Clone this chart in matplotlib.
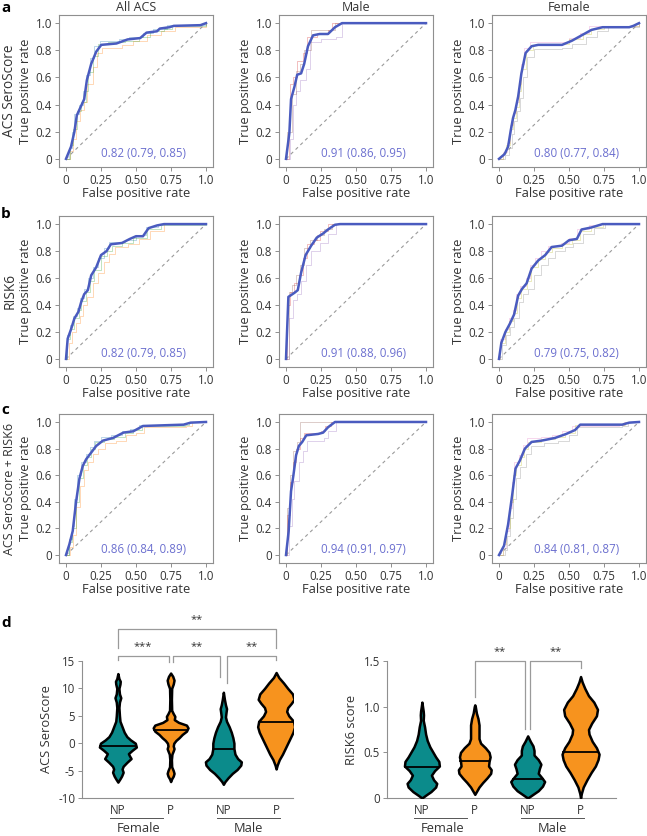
import numpy as np
import matplotlib
matplotlib.use('Agg')
import matplotlib.pyplot as plt
from matplotlib.transforms import blended_transform_factory

plt.rcParams['font.family'] = ['Open Sans', 'DejaVu Sans']

# ---------------- ROC data (panels a-c) ----------------
col_titles = ['All ACS', 'Male', 'Female']
row_labels = ['ACS SeroScore', 'RISK6', 'ACS SeroScore + RISK6']
row_label_sizes = [9.8, 9.8, 9.0]
panel_letters = ['a', 'b', 'c']
auc_labels = [
    ['0.82 (0.79, 0.85)', '0.91 (0.86, 0.95)', '0.80 (0.77, 0.84)'],
    ['0.82 (0.79, 0.85)', '0.91 (0.88, 0.96)', '0.79 (0.75, 0.82)'],
    ['0.86 (0.84, 0.89)', '0.94 (0.91, 0.97)', '0.84 (0.81, 0.87)'],
]
fpr_ticks = [0, 0.25, 0.5, 0.75, 1.0]
fpr_ticklabels = ['0', '0.25', '0.50', '0.75', '1.0']
tpr_ticks = [0, 0.2, 0.4, 0.6, 0.8, 1.0]
tpr_ticklabels = ['0', '0.2', '0.4', '0.6', '0.8', '1.0']

# mean ROC curves (fpr, tpr)
sero_all = [(0, 0), (0.036, 0.09), (0.06, 0.2), (0.077, 0.32), (0.108, 0.39), (0.13, 0.44),
            (0.149, 0.58), (0.18, 0.70), (0.216, 0.79), (0.252, 0.84), (0.36, 0.85), (0.44, 0.88),
            (0.53, 0.89), (0.575, 0.93), (0.65, 0.94), (0.67, 0.96), (0.74, 0.97), (0.77, 0.98),
            (0.96, 0.985), (1, 1)]
sero_male = [(0, 0), (0.024, 0.19), (0.036, 0.44), (0.06, 0.53), (0.08, 0.62), (0.108, 0.63),
             (0.13, 0.70), (0.157, 0.83), (0.193, 0.91), (0.24, 0.92), (0.30, 0.92), (0.35, 0.97),
             (0.40, 1.0), (1, 1)]
sero_female = [(0, 0), (0.04, 0.035), (0.065, 0.09), (0.084, 0.21), (0.10, 0.30), (0.117, 0.36),
               (0.137, 0.46), (0.16, 0.63), (0.19, 0.78), (0.233, 0.83), (0.28, 0.84), (0.45, 0.84),
               (0.52, 0.87), (0.59, 0.91), (0.66, 0.95), (0.74, 0.97), (0.93, 0.97), (0.96, 0.98),
               (1, 1)]
risk_all = [(0, 0), (0.012, 0.15), (0.036, 0.22), (0.06, 0.30), (0.089, 0.35), (0.108, 0.42),
            (0.13, 0.48), (0.156, 0.51), (0.18, 0.62), (0.216, 0.68), (0.25, 0.77), (0.29, 0.80),
            (0.32, 0.85), (0.40, 0.86), (0.456, 0.89), (0.50, 0.91), (0.55, 0.91), (0.59, 0.97),
            (0.65, 0.99), (0.70, 1.0), (1, 1)]
risk_male = [(0, 0), (0.017, 0.46), (0.06, 0.49), (0.084, 0.51), (0.108, 0.64), (0.14, 0.77),
             (0.18, 0.84), (0.22, 0.90), (0.265, 0.93), (0.30, 0.96), (0.35, 0.995), (0.386, 1),
             (1, 1)]
risk_female = [(0, 0), (0.017, 0.12), (0.046, 0.20), (0.077, 0.26), (0.108, 0.33), (0.137, 0.47),
               (0.165, 0.52), (0.197, 0.56), (0.233, 0.67), (0.28, 0.73), (0.33, 0.77), (0.376, 0.83),
               (0.45, 0.84), (0.50, 0.88), (0.556, 0.89), (0.59, 0.96), (0.66, 0.975), (0.74, 1),
               (1, 1)]
comb_all = [(0, 0), (0.024, 0.08), (0.048, 0.18), (0.072, 0.40), (0.096, 0.575), (0.12, 0.67),
            (0.144, 0.72), (0.18, 0.77), (0.216, 0.82), (0.264, 0.86), (0.336, 0.88), (0.41, 0.92),
            (0.48, 0.93), (0.55, 0.97), (0.84, 0.98), (0.89, 0.995), (1, 1)]
comb_male = [(0, 0), (0.019, 0.18), (0.036, 0.48), (0.053, 0.60), (0.072, 0.75), (0.092, 0.82),
             (0.116, 0.85), (0.145, 0.90), (0.23, 0.91), (0.265, 0.92), (0.30, 0.96), (0.35, 1),
             (1, 1)]
comb_female = [(0, 0), (0.036, 0.07), (0.065, 0.23), (0.094, 0.45), (0.118, 0.65), (0.149, 0.71),
               (0.185, 0.80), (0.233, 0.85), (0.305, 0.86), (0.40, 0.88), (0.48, 0.91), (0.544, 0.94),
               (0.58, 0.98), (0.88, 0.98), (0.93, 0.995), (1, 1)]

# a few cross-validation replicate curves (step curves)
sero_all_boot = [
    [(0, 0), (0.02, 0.08), (0.04, 0.2), (0.06, 0.33), (0.09, 0.4), (0.12, 0.5), (0.14, 0.62), (0.17, 0.74),
     (0.2, 0.83), (0.24, 0.87), (0.38, 0.88), (0.45, 0.9), (0.55, 0.93), (0.62, 0.96), (0.72, 0.99), (1, 1)],
    [(0, 0), (0.03, 0.06), (0.05, 0.15), (0.07, 0.28), (0.1, 0.36), (0.13, 0.42), (0.15, 0.55), (0.19, 0.68),
     (0.22, 0.78), (0.26, 0.82), (0.4, 0.84), (0.48, 0.87), (0.58, 0.91), (0.68, 0.94), (0.78, 0.97), (1, 1)],
    [(0, 0), (0.03, 0.1), (0.05, 0.22), (0.08, 0.35), (0.11, 0.42), (0.14, 0.5), (0.16, 0.64), (0.19, 0.76),
     (0.23, 0.85), (0.3, 0.86), (0.42, 0.87), (0.52, 0.9), (0.6, 0.94), (0.7, 0.96), (0.76, 0.98), (1, 1)],
]
sero_male_boot = [
    [(0, 0), (0.02, 0.28), (0.03, 0.55), (0.05, 0.6), (0.08, 0.72), (0.12, 0.78), (0.15, 0.9), (0.22, 0.93),
     (0.3, 0.95), (0.33, 1.0), (1, 1)],
    [(0, 0), (0.03, 0.15), (0.05, 0.4), (0.07, 0.5), (0.1, 0.58), (0.14, 0.66), (0.17, 0.86), (0.25, 0.88),
     (0.36, 0.9), (0.4, 1.0), (1, 1)],
    [(0, 0), (0.01, 0.2), (0.04, 0.48), (0.07, 0.65), (0.1, 0.7), (0.13, 0.8), (0.18, 0.95), (0.28, 0.95),
     (0.35, 1.0), (1, 1)],
]
sero_female_boot = [
    [(0, 0), (0.03, 0.05), (0.06, 0.12), (0.08, 0.25), (0.1, 0.34), (0.12, 0.42), (0.14, 0.55), (0.16, 0.7),
     (0.18, 0.82), (0.22, 0.86), (0.42, 0.86), (0.5, 0.89), (0.58, 0.93), (0.64, 0.98), (1, 1)],
    [(0, 0), (0.04, 0.03), (0.07, 0.08), (0.09, 0.18), (0.11, 0.28), (0.13, 0.35), (0.15, 0.45), (0.17, 0.6),
     (0.2, 0.75), (0.25, 0.81), (0.45, 0.82), (0.52, 0.85), (0.62, 0.9), (0.7, 0.94), (0.78, 0.97), (1, 1)],
    [(0, 0), (0.03, 0.04), (0.05, 0.1), (0.08, 0.22), (0.1, 0.3), (0.12, 0.38), (0.14, 0.5), (0.16, 0.66),
     (0.19, 0.8), (0.24, 0.84), (0.4, 0.85), (0.5, 0.88), (0.6, 0.92), (0.66, 0.96), (0.75, 0.98), (1, 1)],
]
risk_all_boot = [
    [(0, 0), (0.01, 0.18), (0.03, 0.25), (0.05, 0.32), (0.08, 0.38), (0.1, 0.45), (0.13, 0.52), (0.16, 0.6),
     (0.19, 0.68), (0.23, 0.75), (0.27, 0.82), (0.31, 0.87), (0.42, 0.88), (0.5, 0.92), (0.57, 0.98),
     (0.66, 1), (1, 1)],
    [(0, 0), (0.02, 0.12), (0.04, 0.2), (0.07, 0.27), (0.1, 0.32), (0.12, 0.4), (0.15, 0.46), (0.19, 0.56),
     (0.23, 0.64), (0.27, 0.72), (0.31, 0.78), (0.35, 0.83), (0.44, 0.85), (0.52, 0.89), (0.6, 0.95),
     (0.7, 1), (1, 1)],
    [(0, 0), (0.01, 0.15), (0.03, 0.22), (0.06, 0.3), (0.09, 0.36), (0.11, 0.43), (0.14, 0.5), (0.17, 0.58),
     (0.2, 0.66), (0.25, 0.76), (0.29, 0.8), (0.33, 0.84), (0.4, 0.86), (0.48, 0.9), (0.58, 0.96),
     (0.68, 0.99), (1, 1)],
]
risk_male_boot = [
    [(0, 0), (0.01, 0.4), (0.03, 0.5), (0.06, 0.56), (0.09, 0.62), (0.12, 0.75), (0.15, 0.85), (0.2, 0.88),
     (0.24, 0.95), (0.3, 1), (1, 1)],
    [(0, 0), (0.02, 0.3), (0.05, 0.44), (0.08, 0.48), (0.11, 0.58), (0.14, 0.7), (0.18, 0.8), (0.24, 0.86),
     (0.3, 0.93), (0.36, 1), (1, 1)],
    [(0, 0), (0.02, 0.5), (0.04, 0.55), (0.07, 0.62), (0.1, 0.7), (0.13, 0.82), (0.17, 0.88), (0.22, 0.92),
     (0.27, 0.96), (0.33, 1), (1, 1)],
]
risk_female_boot = [
    [(0, 0), (0.01, 0.15), (0.04, 0.22), (0.07, 0.3), (0.1, 0.36), (0.12, 0.48), (0.15, 0.54), (0.19, 0.6),
     (0.22, 0.7), (0.26, 0.75), (0.3, 0.8), (0.35, 0.84), (0.44, 0.86), (0.5, 0.9), (0.56, 0.96),
     (0.64, 0.99), (0.72, 1), (1, 1)],
    [(0, 0), (0.02, 0.1), (0.05, 0.18), (0.08, 0.24), (0.11, 0.3), (0.14, 0.42), (0.17, 0.48), (0.21, 0.52),
     (0.25, 0.62), (0.3, 0.7), (0.35, 0.75), (0.4, 0.8), (0.47, 0.83), (0.53, 0.86), (0.6, 0.93),
     (0.68, 0.97), (0.76, 1), (1, 1)],
    [(0, 0), (0.01, 0.12), (0.04, 0.2), (0.07, 0.28), (0.1, 0.34), (0.13, 0.45), (0.16, 0.52), (0.2, 0.58),
     (0.23, 0.68), (0.28, 0.74), (0.33, 0.79), (0.38, 0.82), (0.45, 0.85), (0.52, 0.88), (0.58, 0.95),
     (0.66, 0.98), (0.74, 1), (1, 1)],
]
comb_all_boot = [
    [(0, 0), (0.02, 0.12), (0.04, 0.22), (0.06, 0.42), (0.08, 0.6), (0.11, 0.7), (0.14, 0.76), (0.17, 0.81),
     (0.2, 0.86), (0.25, 0.89), (0.32, 0.9), (0.4, 0.93), (0.46, 0.95), (0.52, 0.98), (0.84, 0.99),
     (0.87, 1), (1, 1)],
    [(0, 0), (0.03, 0.06), (0.05, 0.15), (0.07, 0.36), (0.1, 0.52), (0.13, 0.64), (0.16, 0.7), (0.19, 0.76),
     (0.23, 0.8), (0.28, 0.84), (0.36, 0.86), (0.43, 0.9), (0.5, 0.92), (0.56, 0.96), (0.86, 0.97),
     (0.9, 1), (1, 1)],
    [(0, 0), (0.02, 0.1), (0.04, 0.2), (0.07, 0.4), (0.09, 0.58), (0.12, 0.68), (0.15, 0.74), (0.18, 0.8),
     (0.21, 0.85), (0.27, 0.87), (0.34, 0.89), (0.42, 0.92), (0.48, 0.94), (0.54, 0.97), (0.85, 0.98),
     (0.88, 1), (1, 1)],
]
comb_male_boot = [
    [(0, 0), (0.01, 0.3), (0.03, 0.55), (0.05, 0.7), (0.07, 0.8), (0.1, 0.88), (0.13, 0.92), (0.25, 0.93),
     (0.28, 0.97), (0.32, 1), (1, 1)],
    [(0, 0), (0.02, 0.22), (0.04, 0.42), (0.06, 0.56), (0.09, 0.7), (0.12, 0.78), (0.15, 0.86), (0.27, 0.88),
     (0.3, 0.93), (0.36, 1), (1, 1)],
    [(0, 0), (0.01, 0.35), (0.03, 0.6), (0.05, 0.78), (0.08, 0.85), (0.1, 1.0), (1, 1)],
]
comb_female_boot = [
    [(0, 0), (0.03, 0.05), (0.05, 0.18), (0.07, 0.35), (0.09, 0.55), (0.11, 0.7), (0.14, 0.75), (0.17, 0.83),
     (0.2, 0.88), (0.3, 0.89), (0.38, 0.9), (0.45, 0.93), (0.52, 0.97), (0.86, 0.98), (0.89, 1), (1, 1)],
    [(0, 0), (0.04, 0.04), (0.06, 0.14), (0.08, 0.28), (0.1, 0.42), (0.12, 0.58), (0.15, 0.66), (0.19, 0.76),
     (0.23, 0.82), (0.32, 0.84), (0.42, 0.86), (0.5, 0.9), (0.56, 0.96), (0.88, 0.97), (0.92, 1), (1, 1)],
    [(0, 0), (0.03, 0.08), (0.05, 0.2), (0.08, 0.4), (0.1, 0.6), (0.12, 0.68), (0.16, 0.74), (0.18, 0.8),
     (0.21, 0.85), (0.3, 0.87), (0.4, 0.89), (0.47, 0.92), (0.54, 0.98), (0.87, 0.98), (0.9, 1), (1, 1)],
]

mean_curves = [[sero_all, sero_male, sero_female],
               [risk_all, risk_male, risk_female],
               [comb_all, comb_male, comb_female]]
boot_curves = [[sero_all_boot, sero_male_boot, sero_female_boot],
               [risk_all_boot, risk_male_boot, risk_female_boot],
               [comb_all_boot, comb_male_boot, comb_female_boot]]

# ---------------- violin data (panel d) ----------------
violin_classes = ['NP', 'P', 'NP', 'P']
violin_groups = ['Female', 'Male']
violin_colors = ['#0b8b8b', '#f7931e', '#0b8b8b', '#f7931e']
sero_medians = [-0.6, 2.4, -1.0, 3.8]
risk_medians = [0.34, 0.41, 0.21, 0.50]

# density outlines: (score, half width)
sero_f_np = [(-7.1, 0), (-6.5, 0.04), (-6, 0.07), (-5.3, 0.1), (-4.7, 0.08), (-4.2, 0.1), (-3.5, 0.17),
             (-2.8, 0.25), (-2.3, 0.22), (-1.9, 0.2), (-1.3, 0.27), (-0.7, 0.35), (0, 0.33), (0.6, 0.24),
             (1.2, 0.17), (2, 0.12), (3, 0.08), (4, 0.04), (5, 0.03), (6.5, 0.02), (7.5, 0.03), (8.3, 0.055),
             (9, 0.03), (10, 0.02), (10.8, 0.04), (11.3, 0.045), (11.8, 0.02), (12.7, 0)]
sero_f_p = [(-7, 0), (-6.5, 0.02), (-6, 0.05), (-5.5, 0.065), (-5, 0.05), (-4.3, 0.02), (-3, 0.015),
            (-2, 0.025), (-1.4, 0.05), (-1, 0.065), (-0.5, 0.05), (0, 0.06), (0.5, 0.1), (1, 0.16),
            (1.6, 0.22), (2.2, 0.3), (2.8, 0.33), (3.3, 0.3), (3.8, 0.15), (4.3, 0.07), (4.9, 0.08),
            (5.4, 0.05), (6, 0.02), (8, 0.015), (10, 0.02), (10.8, 0.05), (11.5, 0.065), (12.2, 0.04),
            (12.8, 0)]
sero_m_np = [(-7.5, 0), (-7, 0.03), (-6.3, 0.09), (-5.5, 0.17), (-4.8, 0.26), (-4, 0.33), (-3.4, 0.34),
             (-2.8, 0.27), (-2, 0.22), (-1, 0.2), (0, 0.2), (1, 0.18), (2, 0.15), (3, 0.11), (4, 0.06),
             (4.8, 0.04), (5.6, 0.05), (6.3, 0.06), (7, 0.04), (8, 0.02), (9.3, 0)]
sero_m_p = [(-4.7, 0), (-4, 0.02), (-3, 0.06), (-2, 0.12), (-1, 0.17), (0, 0.22), (1, 0.27), (2, 0.32),
            (3, 0.35), (4, 0.33), (5, 0.24), (5.8, 0.2), (6.5, 0.22), (7.3, 0.29), (8, 0.34), (9, 0.31),
            (10, 0.22), (11, 0.14), (12, 0.05), (12.9, 0)]
risk_f_np = [(0, 0), (0.03, 0.07), (0.07, 0.17), (0.12, 0.26), (0.16, 0.28), (0.2, 0.22), (0.25, 0.18),
             (0.3, 0.24), (0.35, 0.33), (0.4, 0.32), (0.45, 0.26), (0.5, 0.21), (0.56, 0.15), (0.63, 0.1),
             (0.7, 0.07), (0.78, 0.05), (0.85, 0.025), (0.91, 0.03), (0.95, 0.025), (1.0, 0.012), (1.05, 0)]
risk_f_p = [(0.04, 0), (0.08, 0.04), (0.12, 0.08), (0.17, 0.15), (0.22, 0.23), (0.27, 0.3), (0.31, 0.31),
            (0.35, 0.26), (0.4, 0.27), (0.45, 0.29), (0.5, 0.27), (0.55, 0.2), (0.6, 0.11), (0.65, 0.08),
            (0.72, 0.08), (0.8, 0.08), (0.87, 0.06), (0.93, 0.03), (1.0, 0.01), (1.02, 0)]
risk_m_np = [(0, 0), (0.04, 0.1), (0.08, 0.2), (0.13, 0.28), (0.18, 0.32), (0.22, 0.27), (0.27, 0.2),
             (0.32, 0.22), (0.37, 0.25), (0.42, 0.2), (0.47, 0.12), (0.52, 0.12), (0.57, 0.1), (0.62, 0.05),
             (0.68, 0)]
risk_m_p = [(0, 0), (0.05, 0.015), (0.12, 0.05), (0.2, 0.12), (0.28, 0.2), (0.35, 0.28), (0.42, 0.33),
            (0.48, 0.35), (0.55, 0.3), (0.62, 0.22), (0.7, 0.16), (0.75, 0.15), (0.82, 0.21), (0.9, 0.3),
            (0.97, 0.32), (1.05, 0.25), (1.12, 0.15), (1.2, 0.08), (1.27, 0.03), (1.33, 0)]

sero_profiles = [sero_f_np, sero_f_p, sero_m_np, sero_m_p]
risk_profiles = [risk_f_np, risk_f_p, risk_m_np, risk_m_p]

# significance brackets: (x1, x2, height, leg1 end, leg2 end, label, label y)
sero_brackets = [(0, 3, 20.8, 17.3, 17.3, '**', 22.6),
                 (0, 0.96, 15.9, 15.2, 14.9, '***', 17.6),
                 (1.05, 1.94, 15.9, 14.9, 12.1, '**', 17.6),
                 (2.06, 3, 15.9, 10.9, 15.2, '**', 17.6)]
risk_brackets = [(1.0, 1.95, 1.5, 1.11, 0.76, '**', 1.6),
                 (2.04, 3.0, 1.5, 0.76, 1.42, '**', 1.6)]

W, H = 647, 836
fig = plt.figure(figsize=(W / 100, H / 100), dpi=100)


def px_axes(x0, y0, x1, y1):
    return fig.add_axes([x0 / W, 1 - y1 / H, (x1 - x0) / W, (y1 - y0) / H])


TXT = '#333333'
GRAY = '#8f8f8f'
boot_colors = ['#1f77b4', '#ff7f0e', '#2ca02c', '#d62728', '#9467bd', '#8c564b', '#e377c2', '#7f7f7f', '#bcbd22']

col_x = [(59, 213), (279, 433), (492, 646)]
row_y = [(15, 167), (216, 367), (414, 563)]

for r in range(3):
    for c in range(3):
        ax = px_axes(col_x[c][0], row_y[r][0], col_x[c][1], row_y[r][1])
        k = 0
        for curve in boot_curves[r][c]:
            xy = np.array(curve)
            ax.plot(xy[:, 0], xy[:, 1], drawstyle='steps-post', lw=0.6,
                    color=boot_colors[(k + 3 * c) % len(boot_colors)], alpha=0.35)
            k += 1
        ax.plot([0, 1], [0, 1], ls=(0, (3, 3)), color='#9a9a9a', lw=0.8)
        m = np.array(mean_curves[r][c])
        ax.plot(m[:, 0], m[:, 1], color='#4a5bbf', lw=1.8, solid_joinstyle='round')
        ax.text(0.555, 0.04, auc_labels[r][c], color='#6b6fcf', fontsize=8.3,
                ha='center', va='center')
        ax.set_xlim(-0.05, 1.05)
        ax.set_ylim(-0.06, 1.06)
        ax.set_xticks(fpr_ticks)
        ax.set_xticklabels(fpr_ticklabels)
        ax.set_yticks(tpr_ticks)
        ax.set_yticklabels(tpr_ticklabels)
        ax.tick_params(labelsize=8.3, colors=TXT, length=3, width=0.7, color=GRAY, pad=2)
        for s in ax.spines.values():
            s.set_color(GRAY)
            s.set_linewidth(0.8)
        ax.text(0.5, -0.175, 'False positive rate', transform=ax.transAxes, fontsize=9.3,
                color=TXT, ha='center', va='center')
        ax.text(-0.215, 0.5, 'True positive rate', transform=ax.transAxes, fontsize=9.3,
                color=TXT, ha='center', va='center', rotation=90)
        if r == 0:
            ax.set_title(col_titles[c], fontsize=9, color=TXT, pad=3)
    yc = (row_y[r][0] + row_y[r][1]) / 2
    fig.text(10 / W, 1 - yc / H, row_labels[r], rotation=90, fontsize=row_label_sizes[r], color=TXT,
             ha='center', va='center')

letter_pos = [(1, 8), (1, 214), (1, 410)]
for letter, (lx, ly) in zip(panel_letters, letter_pos):
    fig.text(lx / W, 1 - ly / H, letter, fontsize=11, fontweight='bold', ha='left', va='center')
fig.text(1 / W, 1 - 623 / H, 'd', fontsize=11, fontweight='bold', ha='left', va='center')


def draw_violins(ax, profiles, medians, brackets, ylim, yticks, yticklabels, ylabel, xlim):
    for i, prof in enumerate(profiles):
        p = np.array(prof)
        ax.fill_betweenx(p[:, 0], i - p[:, 1], i + p[:, 1], facecolor=violin_colors[i],
                         edgecolor='black', lw=1.8, joinstyle='round', zorder=3)
        hw = np.interp(medians[i], p[:, 0], p[:, 1])
        ax.plot([i - hw, i + hw], [medians[i], medians[i]], color='black', lw=1.3, zorder=4)
    for x1, x2, h, l1, l2, lab, ly in brackets:
        ax.plot([x1, x1, x2, x2], [l1, h, h, l2], color='#9a9a9a', lw=0.9, clip_on=False)
        ax.text((x1 + x2) / 2, ly, lab, ha='center', va='center', fontsize=8, color=TXT)
    ax.set_xlim(*xlim)
    ax.set_ylim(*ylim)
    ax.set_yticks(yticks)
    ax.set_yticklabels(yticklabels)
    ax.set_xticks(range(4))
    ax.set_xticklabels(violin_classes)
    ax.tick_params(axis='y', labelsize=8.3, colors=TXT, length=3, width=0.7, color=GRAY, pad=2)
    ax.tick_params(axis='x', labelsize=8.3, colors=TXT, length=0, pad=4)
    for s in ['top', 'right']:
        ax.spines[s].set_visible(False)
    for s in ['left', 'bottom']:
        ax.spines[s].set_color(GRAY)
        ax.spines[s].set_linewidth(0.8)
    ax.set_ylabel(ylabel, fontsize=9.3, color=TXT, labelpad=4)
    tr = blended_transform_factory(ax.transData, ax.transAxes)
    for g, (a, b, xc) in enumerate([(-0.15, 0.85, 0.4), (1.88, 3.07, 2.47)]):
        ax.plot([a, b], [-0.145, -0.145], transform=tr, color='#555555', lw=0.7, clip_on=False)
        ax.text(xc, -0.225, violin_groups[g], transform=tr, ha='center', va='center',
                fontsize=9.3, color=TXT)


ax_s = px_axes(82, 661, 293, 798)
draw_violins(ax_s, sero_profiles, sero_medians, sero_brackets, (-10, 15),
             [-10, -5, 0, 5, 10, 15], ['-10', '-5', '0', '5', '10', '15'], 'ACS SeroScore', (-0.68, 3.32))
ax_r = px_axes(387, 661, 616, 798)
draw_violins(ax_r, risk_profiles, risk_medians, risk_brackets, (0, 1.5),
             [0, 0.5, 1.0, 1.5], ['0', '0.5', '1.0', '1.5'], 'RISK6 score', (-0.66, 3.67))

fig.savefig('out.png', dpi=100)
